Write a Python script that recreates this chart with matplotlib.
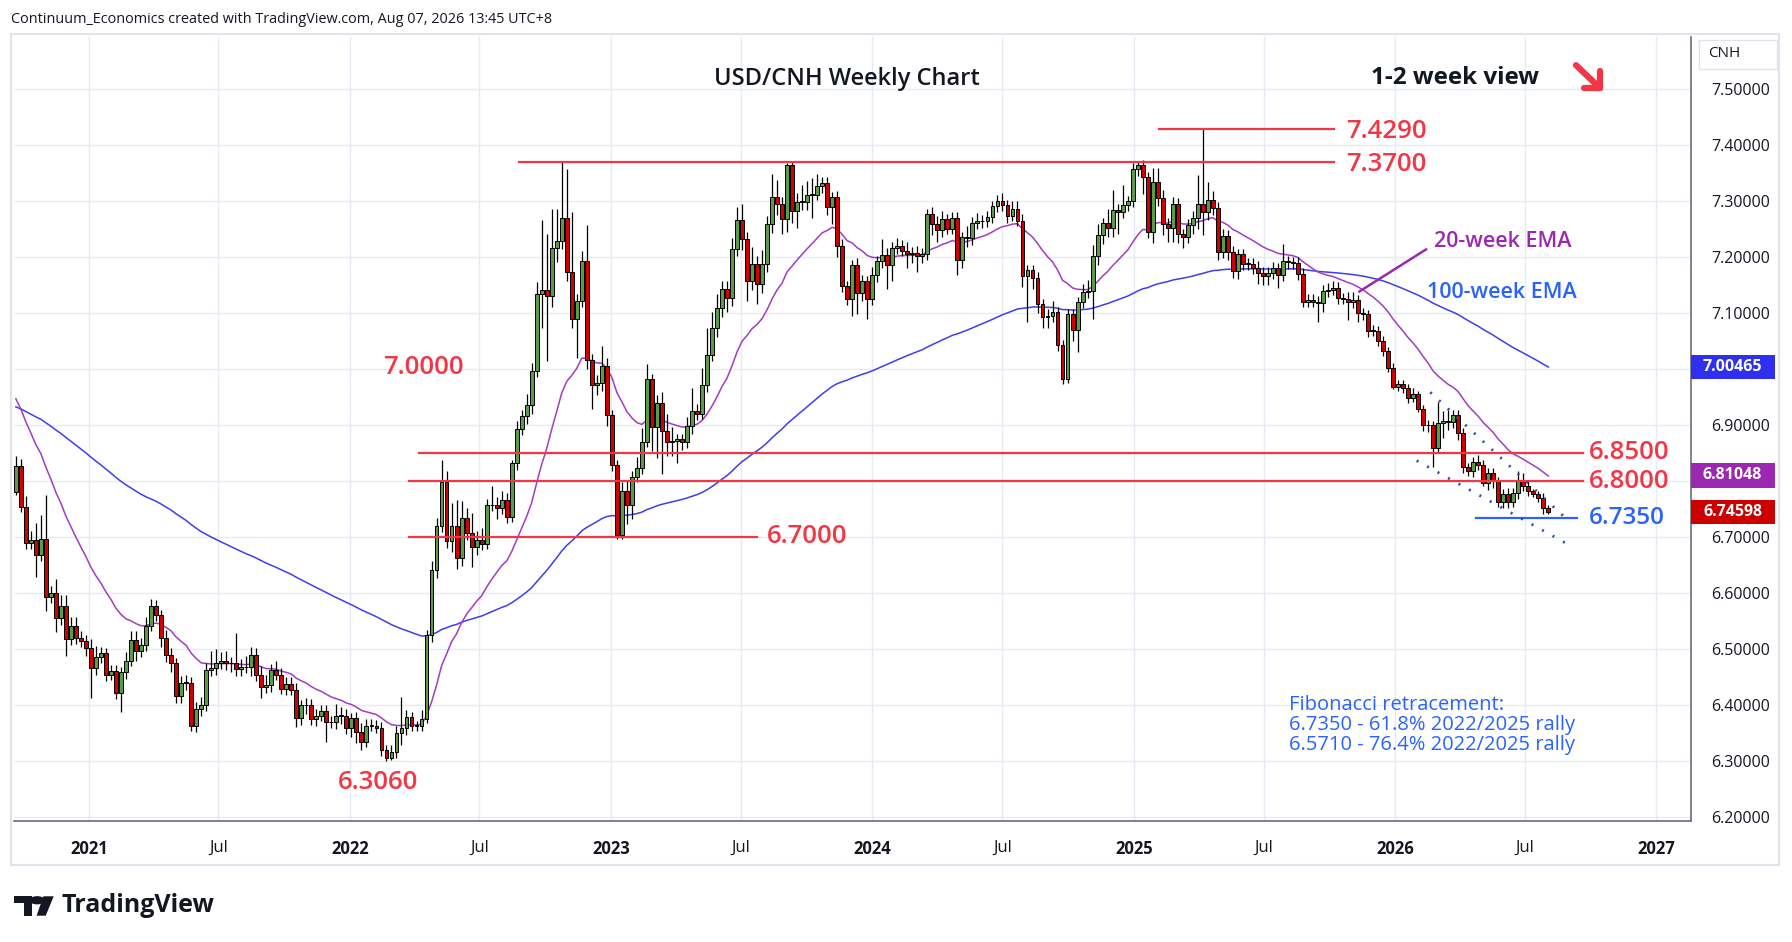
import numpy as np
import pandas as pd
import matplotlib
matplotlib.use("Agg")
import matplotlib.pyplot as plt
import matplotlib.dates as mdates
from matplotlib.patches import Rectangle, Polygon, Circle
from matplotlib.lines import Line2D
from matplotlib.transforms import blended_transform_factory

plt.rcParams['font.family'] = ['Open Sans', 'DejaVu Sans']

# layout grid used for placing things (output is 1792x942)
W, H = 1568.0, 824.0

# ---------------- data ----------------
weeks = pd.date_range("2020-09-21", periods=307, freq="7D")
first_open = 6.781

close = [
    6.828, 6.754, 6.690, 6.696, 6.668, 6.697, 6.594, 6.601, 6.556, 6.578,
    6.519, 6.542, 6.520, 6.515, 6.503, 6.466, 6.486, 6.493, 6.455, 6.461,
    6.423, 6.459, 6.480, 6.517, 6.498, 6.508, 6.542, 6.577, 6.561, 6.520,
    6.490, 6.475, 6.417, 6.440, 6.440, 6.363, 6.394, 6.400, 6.464, 6.467,
    6.475, 6.480, 6.475, 6.475, 6.465, 6.468, 6.468, 6.490, 6.455, 6.433,
    6.436, 6.464, 6.455, 6.430, 6.438, 6.428, 6.377, 6.400, 6.401, 6.375,
    6.382, 6.390, 6.370, 6.370, 6.382, 6.382, 6.359, 6.377, 6.353, 6.335,
    6.364, 6.364, 6.360, 6.320, 6.306, 6.317, 6.351, 6.360, 6.379, 6.364,
    6.364, 6.376, 6.525, 6.642, 6.720, 6.799, 6.693, 6.721, 6.664, 6.735,
    6.708, 6.683, 6.696, 6.689, 6.757, 6.757, 6.753, 6.767, 6.737, 6.833,
    6.893, 6.917, 6.936, 6.997, 7.135, 7.141, 7.131, 7.217, 7.229, 7.271,
    7.174, 7.089, 7.122, 7.193, 7.017, 6.972, 6.976, 7.006, 6.918, 6.829,
    6.705, 6.783, 6.758, 6.808, 6.824, 6.871, 6.982, 6.897, 6.940, 6.890,
    6.871, 6.872, 6.875, 6.871, 6.899, 6.926, 6.921, 6.972, 7.026, 7.073,
    7.109, 7.143, 7.128, 7.214, 7.266, 7.233, 7.157, 7.188, 7.152, 7.188,
    7.259, 7.308, 7.296, 7.269, 7.365, 7.282, 7.299, 7.299, 7.311, 7.312,
    7.327, 7.333, 7.290, 7.307, 7.220, 7.148, 7.125, 7.186, 7.137, 7.157,
    7.126, 7.168, 7.193, 7.204, 7.187, 7.217, 7.220, 7.212, 7.205, 7.208,
    7.202, 7.206, 7.277, 7.259, 7.248, 7.268, 7.251, 7.270, 7.195, 7.236,
    7.234, 7.262, 7.264, 7.264, 7.272, 7.291, 7.300, 7.293, 7.274, 7.286,
    7.265, 7.166, 7.177, 7.163, 7.116, 7.093, 7.096, 7.102, 7.043, 6.982,
    7.098, 7.071, 7.120, 7.138, 7.140, 7.202, 7.239, 7.261, 7.252, 7.284,
    7.280, 7.294, 7.300, 7.358, 7.364, 7.343, 7.245, 7.335, 7.306, 7.260,
    7.252, 7.295, 7.241, 7.237, 7.257, 7.270, 7.296, 7.281, 7.303, 7.288,
    7.210, 7.238, 7.210, 7.176, 7.205, 7.188, 7.188, 7.181, 7.172, 7.166,
    7.172, 7.180, 7.168, 7.193, 7.191, 7.189, 7.170, 7.121, 7.124, 7.121,
    7.118, 7.140, 7.142, 7.146, 7.127, 7.126, 7.120, 7.123, 7.100, 7.098,
    7.069, 7.069, 7.051, 7.032, 7.003, 6.969, 6.973, 6.966, 6.949, 6.956,
    6.929, 6.900, 6.900, 6.860, 6.904, 6.907, 6.906, 6.918, 6.886, 6.825,
    6.818, 6.834, 6.830, 6.797, 6.815, 6.800, 6.763, 6.778, 6.763, 6.779,
    6.803, 6.791, 6.782, 6.777, 6.771, 6.752, 6.746,
]

# wick lengths above / below the body, in 0.001 units
up_wick = [
    18, 12, 20, 15, 30, 43, 78, 12, 25, 20,
    20, 15, 15, 12, 10, 15, 20, 12, 10, 12,
    12, 10, 15, 15, 15, 12, 15, 13, 12, 10,
    15, 12, 10, 12, 15, 10, 12, 15, 12, 30,
    25, 15, 18, 12, 55, 15, 20, 15, 12, 15,
    18, 10, 15, 12, 12, 12, 12, 10, 12, 10,
    12, 10, 10, 12, 20, 15, 12, 10, 12, 15,
    12, 12, 10, 10, 10, 12, 12, 55, 12, 10,
    8, 15, 10, 15, 15, 40, 20, 40, 45, 30,
    18, 35, 15, 20, 12, 35, 15, 15, 12, 5,
    15, 10, 20, 15, 20, 125, 100, 69, 57, 100,
    86, 106, 12, 18, 65, 10, 14, 35, 15, 10,
    10, 15, 18, 10, 20, 25, 27, 10, 15, 20,
    30, 25, 10, 10, 15, 40, 12, 30, 48, 30,
    25, 15, 15, 20, 23, 30, 12, 30, 15, 25,
    15, 40, 30, 12, 3, 5, 15, 30, 25, 30,
    21, 10, 10, 10, 12, 12, 10, 10, 12, 12,
    10, 15, 10, 29, 12, 10, 15, 10, 15, 10,
    12, 10, 10, 12, 15, 15, 10, 10, 10, 10,
    20, 10, 15, 12, 10, 10, 12, 15, 10, 15,
    15, 12, 10, 10, 10, 10, 12, 20, 10, 10,
    10, 10, 10, 15, 20, 20, 20, 10, 25, 37,
    12, 35, 10, 10, 8, 10, 10, 25, 25, 15,
    10, 12, 10, 10, 12, 12, 51, 133, 32, 15,
    10, 12, 10, 10, 10, 10, 10, 10, 12, 10,
    10, 12, 10, 31, 10, 10, 12, 10, 10, 10,
    10, 10, 12, 12, 10, 10, 12, 15, 10, 10,
    8, 10, 8, 8, 8, 8, 8, 8, 8, 10,
    5, 8, 10, 8, 38, 18, 20, 10, 10, 10,
    8, 10, 13, 8, 8, 8, 8, 8, 10, 10,
    15, 12, 10, 5, 5, 8, 6,
]
dn_wick = [
    5, 8, 10, 10, 38, 10, 26, 12, 25, 12,
    30, 12, 10, 10, 15, 52, 12, 10, 11, 10,
    12, 34, 12, 10, 18, 12, 10, 10, 10, 15,
    12, 15, 12, 12, 12, 8, 10, 12, 10, 12,
    12, 10, 12, 15, 12, 12, 10, 15, 12, 20,
    10, 12, 10, 10, 12, 10, 15, 12, 15, 10,
    12, 10, 35, 10, 12, 15, 10, 15, 20, 15,
    10, 10, 10, 10, 5, 3, 10, 22, 12, 10,
    10, 10, 8, 12, 15, 10, 12, 20, 20, 15,
    12, 35, 15, 12, 10, 10, 20, 12, 12, 10,
    12, 10, 15, 15, 10, 61, 116, 20, 25, 15,
    17, 15, 68, 10, 17, 42, 18, 15, 20, 10,
    8, 8, 35, 25, 10, 10, 10, 43, 55, 77,
    26, 25, 40, 15, 12, 15, 12, 10, 12, 12,
    15, 15, 25, 15, 12, 20, 35, 15, 36, 15,
    15, 15, 20, 28, 24, 20, 30, 15, 15, 40,
    10, 12, 15, 30, 20, 10, 10, 30, 38, 15,
    37, 12, 12, 12, 43, 30, 12, 10, 25, 15,
    28, 12, 10, 20, 20, 12, 10, 10, 27, 15,
    15, 12, 12, 12, 10, 10, 10, 10, 12, 10,
    10, 19, 82, 20, 15, 20, 20, 12, 10, 8,
    6, 20, 40, 10, 10, 50, 15, 15, 15, 15,
    38, 10, 12, 10, 12, 30, 10, 20, 15, 20,
    24, 25, 16, 21, 12, 15, 20, 41, 15, 12,
    14, 12, 15, 13, 15, 10, 10, 10, 20, 15,
    15, 10, 23, 10, 12, 10, 10, 10, 10, 10,
    33, 15, 10, 10, 10, 10, 32, 10, 15, 10,
    12, 10, 10, 8, 8, 5, 8, 8, 10, 8,
    5, 10, 12, 34, 10, 27, 15, 10, 12, 10,
    9, 10, 10, 5, 12, 12, 8, 10, 10, 8,
    10, 8, 8, 5, 8, 11, 5,
]

# EMA values just before the first visible week (read from the left edge)
ema20_seed = 6.96
ema100_seed = 6.935

# price-axis tag boxes
tag_values = [7.00465, 6.81048, 6.74598]
tag_texts = ["7.00465", "6.81048", "6.74598"]
tag_colors = ["#2f2ff0", "#9c27b0", "#cc0000"]

# horizontal levels: (price, start, end)
red_levels = [
    (7.4290, "2025-02-05", "2025-10-08"),
    (7.3700, "2022-08-25", "2025-10-08"),
    (6.8500, "2022-04-07", "2026-09-20"),
    (6.8000, "2022-03-24", "2026-09-20"),
    (6.7000, "2022-03-24", "2023-07-24"),
]
blue_level = (6.7350, "2026-04-24", "2026-09-12")

channel_upper = [("2026-02-19", 6.959), ("2026-08-30", 6.731)]
channel_lower = [("2026-01-31", 6.837), ("2026-08-27", 6.690)]

price_ticks = [6.2, 6.3, 6.4, 6.5, 6.6, 6.7, 6.8, 6.9, 7.0, 7.1, 7.2, 7.3, 7.4, 7.5]
time_ticks = ["2021-01-01", "2021-07-01", "2022-01-01", "2022-07-01", "2023-01-01",
              "2023-07-01", "2024-01-01", "2024-07-01", "2025-01-01", "2025-07-01",
              "2026-01-01", "2026-07-01", "2027-01-01"]
time_labels = ["2021", "Jul", "2022", "Jul", "2023", "Jul", "2024", "Jul",
               "2025", "Jul", "2026", "Jul", "2027"]

# ---------------- derived series ----------------
c = np.array(close)
o = np.concatenate([[first_open], c[:-1]])
hi = np.maximum(o, c) + np.array(up_wick) / 1000.0
lo = np.minimum(o, c) - np.array(dn_wick) / 1000.0


def ema(vals, n, seed):
    a = 2.0 / (n + 1)
    out = []
    e = seed
    for v in vals:
        e = a * v + (1 - a) * e
        out.append(e)
    return np.array(out)


ema20 = ema(c, 20, ema20_seed)
ema100 = ema(c, 100, ema100_seed)

RED = "#f23645"
BLUE = "#2962ff"
GREEN_C = "#5b9b45"
RED_C = "#d00000"

d = lambda s: mdates.date2num(pd.Timestamp(s))

fig = plt.figure(figsize=(17.92, 9.42), dpi=100)
fig.patch.set_facecolor("white")
ax = fig.add_axes([12 / W, 1 - 718 / H, (1480 - 12) / W, (718 - 32) / H])

x = mdates.date2num(weeks)

ax.set_xlim(d("2020-09-18"), d("2027-02-19"))
ax.set_ylim(6.194, 7.594)

# grid
for p in price_ticks:
    ax.axhline(p, color="#e4ebf2", lw=1.0, zorder=0)
for t in time_ticks:
    ax.axvline(d(t), color="#e4ebf2", lw=1.0, zorder=0)

# EMAs
ax.plot(x, ema100, color="#3d3df2", lw=1.1, zorder=2)
ax.plot(x, ema20, color="#a23cc2", lw=1.1, zorder=2)

# candles
ax.vlines(x, lo, hi, color="black", lw=0.9, zorder=3)
body = np.maximum(np.abs(c - o), 0.0012)
cols = np.where(c >= o, GREEN_C, RED_C)
ax.bar(x, body, width=5.4, bottom=np.minimum(o, c), color=cols,
       edgecolor="black", linewidth=0.7, zorder=4)

# levels
for p, s, e in red_levels:
    ax.plot([d(s), d(e)], [p, p], color=RED, lw=1.6, zorder=5)
p, s, e = blue_level
ax.plot([d(s), d(e)], [p, p], color=BLUE, lw=1.6, zorder=5)

for pts in (channel_upper, channel_lower):
    ax.plot([d(pts[0][0]), d(pts[1][0])], [pts[0][1], pts[1][1]],
            color="#2b4aa8", lw=2.0, ls=(0, (0.7, 3.6)), zorder=5)

# level labels
lab_kw = dict(color=RED, fontsize=18.5, fontweight="semibold", va="center", zorder=6)
ax.text(d("2025-10-24"), 7.425, "7.4290", **lab_kw)
ax.text(d("2025-10-24"), 7.365, "7.3700", **lab_kw)
ax.text(d("2026-09-28"), 6.851, "6.8500", **lab_kw)
ax.text(d("2026-09-28"), 6.800, "6.8000", **lab_kw)
ax.text(d("2023-08-07"), 6.702, "6.7000", **lab_kw)
ax.text(d("2022-02-17"), 7.004, "7.0000", **lab_kw)
ax.text(d("2021-12-15"), 6.263, "6.3060", **lab_kw)
ax.text(d("2026-09-28"), 6.735, "6.7350", color=BLUE, fontsize=17.5,
        fontweight="semibold", va="center", zorder=6)

# titles
ax.text(d("2023-11-27"), 7.518, "USD/CNH Weekly Chart", ha="center", va="center",
        fontsize=17, fontweight="semibold", color="#131722")
ax.text(d("2025-11-28"), 7.520, "1-2 week view", ha="left", va="center",
        fontsize=17.5, fontweight="bold", color="#131722")

# down-right arrow drawn as a shaft plus an open chevron head
tf = fig.transFigure
arrow_kw = dict(transform=tf, color=RED, lw=4.5, solid_capstyle="round",
                solid_joinstyle="round")
fig.lines.append(Line2D([1379 / W, 1400 / W], [1 - 57 / H, 1 - 77 / H], **arrow_kw))
fig.lines.append(Line2D([1386 / W, 1400 / W, 1400 / W], [1 - 77 / H, 1 - 77 / H, 1 - 62 / H], **arrow_kw))

# EMA labels
ax.plot([d("2025-11-12"), d("2026-02-13")], [7.139, 7.214], color="#9c27b0", lw=1.8, zorder=6)
ax.text(d("2026-02-24"), 7.229, "20-week EMA", color="#9c27b0", fontsize=15.5,
        fontweight="semibold", va="center")
ax.text(d("2026-02-14"), 7.137, "100-week EMA", color=BLUE, fontsize=15.5,
        fontweight="semibold", va="center")

# fibonacci note
fib_lines = ["Fibonacci retracement:", "6.7350 - 61.8% 2022/2025 rally",
             "6.5710 - 76.4% 2022/2025 rally"]
for yv, txt in zip([6.400, 6.365, 6.329], fib_lines):
    ax.text(d("2025-08-05"), yv, txt, color=BLUE, fontsize=14.5, va="center")

# axes styling
for sp in ("left", "top"):
    ax.spines[sp].set_visible(False)
for sp in ("right", "bottom"):
    ax.spines[sp].set_color("#6a6d78")
    ax.spines[sp].set_linewidth(1.2)

# price labels hidden where a tag box sits on top of them
ax.yaxis.tick_right()
ax.set_yticks(price_ticks)
ax.set_yticklabels(["" if min(abs(p - v) for v in tag_values) < 0.02 else f"{p:.5f}"
                    for p in price_ticks])
ax.tick_params(axis="y", length=0, pad=14, labelsize=11.5, labelcolor="#131722")
ax.set_xticks([d(t) for t in time_ticks])
ax.set_xticklabels(time_labels)
ax.tick_params(axis="x", length=0, pad=14, labelsize=12, labelcolor="#131722")
for lbl in ax.get_xticklabels():
    if lbl.get_text() != "Jul":
        lbl.set_fontweight("bold")

# price tags on the axis
tr = blended_transform_factory(ax.transAxes, ax.transData)
for v, t, col in zip(tag_values, tag_texts, tag_colors):
    ax.add_patch(Rectangle((1.0, v - 0.0215), 0.0497, 0.043, transform=tr,
                           facecolor=col, edgecolor="none", clip_on=False, zorder=10))
    ax.text(1.0245, v, t, transform=tr, ha="center", va="center", color="white",
            fontsize=11.5, fontweight="bold", clip_on=False, zorder=11)

# currency box
fig.patches.append(Rectangle((1487 / W, 1 - 60 / H), 68 / W, 25 / H, transform=tf,
                             facecolor="white", edgecolor="#e0e3eb", lw=1.0))
fig.text(1495 / W, 1 - 47 / H, "CNH", fontsize=11, color="#131722", va="center")

# outer frame
fig.patches.append(Rectangle((10 / W, 1 - 757 / H), 1547 / W, 727 / H, transform=tf,
                             facecolor="none", edgecolor="#e0e3eb", lw=1.5))

# header
fig.text(10 / W, 1 - 17 / H, "Continuum_Economics created with TradingView.com, Aug 07, 2026 13:45 UTC+8",
         fontsize=10.4, color="#131722", va="center")

# TradingView logo
def fp(xp, yp):
    return (xp / W, 1 - yp / H)
fig.patches.append(Polygon([fp(12, 784), fp(28, 784), fp(28, 801), fp(21, 801), fp(21, 790), fp(12, 790)],
                           closed=True, transform=tf, facecolor="#131722", edgecolor="none"))
fig.patches.append(Circle(fp(32.5, 787.5), 3.6 / H, transform=tf, facecolor="#131722", edgecolor="none"))
fig.patches.append(Polygon([fp(38, 784), fp(47, 784), fp(40, 801), fp(32, 801)],
                           closed=True, transform=tf, facecolor="#131722", edgecolor="none"))
fig.text(54 / W, 1 - 792 / H, "TradingView", fontsize=18, fontweight="bold", color="#131722", va="center")

fig.savefig("out.png", dpi=100, facecolor="white")
